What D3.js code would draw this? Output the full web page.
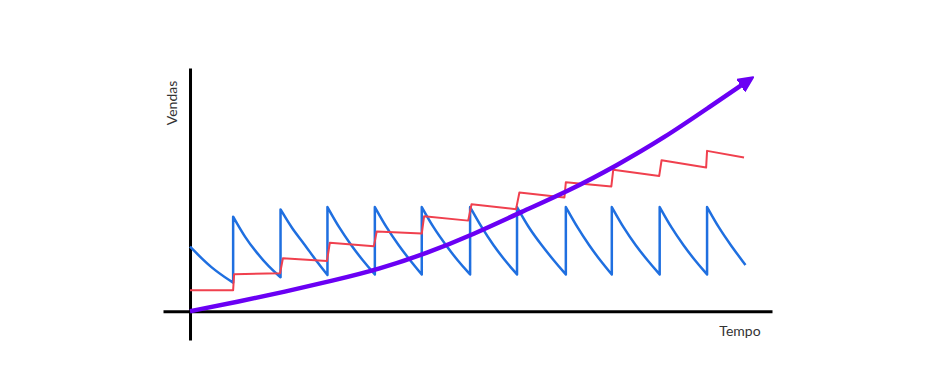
<!DOCTYPE html>
<html>
<head>
<meta charset="utf-8">
<script src="https://cdn.jsdelivr.net/npm/d3@7"></script>
<style>
  html, body { margin: 0; padding: 0; background: #fff; }
  svg { display: block; }
</style>
</head>
<body>
<svg id="chart"></svg>
<script>
const global_width = 936,
  global_height = 370;

// axis labels
const xLabel = 'Tempo',
  yLabel = 'Vendas';

// blue sawtooth, one array of [t, v] per decay cycle
const blueSegments = [
  [[0, 27.6], [0.45, 18.3], [0.91, 12.2]],
  [[0.91, 40.4], [1.16, 31.5], [1.41, 24.9], [1.66, 19.0], [1.91, 14.5]],
  [[1.91, 43.5], [2.16, 35.0], [2.4, 29.1], [2.65, 21.8], [2.9, 15.5]],
  [[2.9, 44.5], [3.15, 35.5], [3.4, 28.2], [3.65, 21.5], [3.9, 15.7]],
  [[3.9, 44.5], [4.15, 35.5], [4.4, 28.2], [4.65, 21.5], [4.89, 15.7]],
  [[4.89, 44.5], [5.14, 35.5], [5.4, 28.2], [5.65, 21.5], [5.91, 15.7]],
  [[5.91, 44.5], [6.16, 35.5], [6.4, 28.2], [6.65, 21.5], [6.9, 15.7]],
  [[6.9, 44.5], [7.15, 35.5], [7.42, 28.2], [7.68, 21.5], [7.93, 15.7]],
  [[7.93, 44.5], [8.18, 35.5], [8.42, 28.2], [8.66, 21.5], [8.9, 15.7]],
  [[8.9, 44.5], [9.15, 35.5], [9.4, 28.2], [9.66, 21.5], [9.91, 15.7]],
  [[9.91, 44.5], [10.16, 35.5], [10.41, 28.2], [10.66, 21.5], [10.91, 15.7]],
  [[10.91, 44.5], [11.16, 35.5], [11.41, 28.2], [11.72, 19.7]]
]

// red stepped line [t, v]
const redPoints = [
  [0, 9.0], [0.91, 9.0], [0.93, 15.8], [1.9, 16.2], [1.96, 22.6],
  [2.89, 21.5], [2.95, 29.2], [3.88, 27.8], [3.94, 34.1], [4.89, 33.2],
  [4.94, 40.6], [5.87, 38.7], [5.94, 45.7], [6.88, 43.6], [6.95, 50.7],
  [7.9, 48.6], [7.93, 55.1], [8.89, 53.3], [8.93, 60.4], [9.9, 57.8],
  [9.95, 64.5], [10.89, 61.4], [10.91, 68.5], [11.69, 65.7]
]

// purple growth curve [t, v]
const purplePoints = [
  [0, 0], [1, 4.0], [2, 8.3], [3, 13.0], [4, 18.0], [5, 24.8],
  [6, 33.0], [7, 42.5], [8, 51.5], [9, 62.2], [10, 74.0], [11, 87.8],
  [11.69, 97.3]
]

const colors = {
  blue: '#1f6fe0',
  red: '#f0404e',
  purple: '#6a00f4',
  axis: '#000',
  text: '#333'
}

const svg = d3.select('svg#chart')
  .attr('width', global_width)
  .attr('height', global_height)

// Scales
const xScale = d3.scaleLinear().domain([-0.57, 12.28]).range([163, 772])
const yScale = d3.scaleLinear().domain([-12.3, 103.9]).range([340, 68])

// arrow head for the growth curve
svg.append('defs')
  .append('marker')
  .attr('id', 'arrow')
  .attr('markerUnits', 'userSpaceOnUse')
  .attr('viewBox', '0 -8 16 16')
  .attr('refX', 4)
  .attr('refY', 0)
  .attr('markerWidth', 16)
  .attr('markerHeight', 16)
  .attr('orient', 'auto')
  .append('path')
  .attr('d', 'M0,-7L15,0L0,7Z')
  .attr('fill', colors.purple)
  .attr('stroke', colors.purple)
  .attr('stroke-width', 2)
  .attr('stroke-linejoin', 'round')

// Axes (no ticks, only the domain lines)
const xAxis = d3.axisBottom(xScale).tickValues([]).tickSizeOuter(0)
const yAxis = d3.axisLeft(yScale).tickValues([]).tickSizeOuter(0)

svg.append('g')
  .attr('id', 'x-axis')
  .attr('transform', `translate(0,${yScale(0)})`)
  .call(xAxis)
svg.append('g')
  .attr('id', 'y-axis')
  .attr('transform', `translate(${xScale(0)},0)`)
  .call(yAxis)

svg.selectAll('.domain')
  .attr('stroke', colors.axis)
  .attr('stroke-width', 3)

// blue sawtooth: each cycle smoothed, joined by vertical jumps
const cycleLine = d3.line()
  .x(d => xScale(d[0]))
  .y(d => yScale(d[1]))
  .curve(d3.curveBasis)

const bluePath = blueSegments
  .map((seg, i) => {
    const p = cycleLine(seg)
    return i === 0 ? p : 'L' + p.slice(1)
  })
  .join('')

const lines = svg.append('g').attr('id', 'lines')

lines.append('path')
  .attr('d', bluePath)
  .attr('fill', 'none')
  .attr('stroke', colors.blue)
  .attr('stroke-width', 2.5)
  .attr('stroke-linejoin', 'round')

const redLine = d3.line()
  .x(d => xScale(d[0]))
  .y(d => yScale(d[1]))

lines.append('path')
  .datum(redPoints)
  .attr('d', redLine)
  .attr('fill', 'none')
  .attr('stroke', colors.red)
  .attr('stroke-width', 2)
  .attr('stroke-linejoin', 'round')

const growthLine = d3.line()
  .x(d => xScale(d[0]))
  .y(d => yScale(d[1]))
  .curve(d3.curveBasis)

lines.append('path')
  .datum(purplePoints)
  .attr('d', growthLine)
  .attr('fill', 'none')
  .attr('stroke', colors.purple)
  .attr('stroke-width', 4.5)
  .attr('marker-end', 'url(#arrow)')

// axis labels
svg.append('text')
  .attr('transform', `translate(177,103) rotate(-90)`)
  .attr('text-anchor', 'middle')
  .attr('font-family', 'Lato, sans-serif')
  .attr('font-size', '14px')
  .attr('fill', colors.text)
  .text(yLabel)

svg.append('text')
  .attr('x', 740)
  .attr('y', 336)
  .attr('text-anchor', 'middle')
  .attr('font-family', 'Lato, sans-serif')
  .attr('font-size', '14px')
  .attr('fill', colors.text)
  .text(xLabel)
</script>
</body>
</html>
